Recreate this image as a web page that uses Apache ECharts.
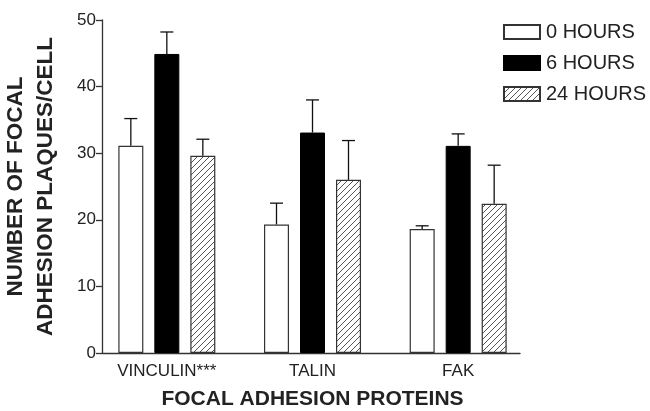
<!DOCTYPE html>
<html><head><meta charset="utf-8">
<script src="https://cdn.jsdelivr.net/npm/echarts@6/dist/echarts.min.js"></script>
<style>html,body{margin:0;padding:0;background:#fff}#c{width:650px;height:411px}</style>
</head><body><div id="c"></div>
<script>
const categories = ['VINCULIN***', 'TALIN', 'FAK'];
const seriesNames = ['0 HOURS', '6 HOURS', '24 HOURS'];
const hours0 = [31.1, 19.3, 18.6];
const hours6 = [44.9, 33.1, 31.1];
const hours24 = [29.6, 26.0, 22.4];
const sem0 = [4.1, 3.2, 0.5];
const sem6 = [3.3, 4.9, 1.8];
const sem24 = [2.5, 5.9, 5.8];
const yTicks = [0, 10, 20, 30, 40, 50];

const FONT = 'Liberation Sans, Arial, sans-serif';
const TXT = '#222';

// hatch pattern
const pc = document.createElement('canvas');
pc.width = 6; pc.height = 6;
const g = pc.getContext('2d');
g.fillStyle = '#fff'; g.fillRect(0, 0, 6, 6);
g.strokeStyle = '#555'; g.lineWidth = 1;
g.beginPath();
g.moveTo(-1, 7); g.lineTo(7, -1);
g.moveTo(-1, 1); g.lineTo(1, -1);
g.moveTo(5, 7); g.lineTo(7, 5);
g.stroke();

const barW = 25;
const offsets = [-36, 0, 36];

function errSeries(means, sems, idx) {
  return {
    type: 'custom', xAxisIndex: 0, yAxisIndex: 0, z: 10, silent: true,
    data: means.map((m, i) => [i, m, m + sems[i]]),
    encode: { x: 0, y: [1, 2] },
    renderItem: function (params, api) {
      const b = api.coord([api.value(0), api.value(1)]);
      const t = api.coord([api.value(0), api.value(2)]);
      const cx = b[0] + offsets[idx];
      const st = { stroke: '#111', lineWidth: 1.3 };
      return { type: 'group', children: [
        { type: 'line', shape: { x1: cx, y1: b[1], x2: cx, y2: t[1] }, style: st },
        { type: 'line', shape: { x1: cx - 6.5, y1: t[1], x2: cx + 6.5, y2: t[1] }, style: st }
      ]};
    }
  };
}

const chart = echarts.init(document.getElementById('c'), null, { renderer: 'canvas' });
chart.setOption({
  animation: false,
  backgroundColor: '#fff',
  textStyle: { fontFamily: FONT },
  grid: [
    { left: 94, width: 437, top: 20, bottom: 58, containLabel: false, outerBoundsMode: 'none' },
    { left: 102, right: 130, top: 20, bottom: 58, containLabel: false, outerBoundsMode: 'none' }
  ],
  legend: {
    orient: 'vertical', left: 503, top: 22, padding: 0, itemWidth: 36, itemHeight: 14, itemGap: 11,
    data: seriesNames,
    textStyle: { fontFamily: FONT, fontSize: 20, color: TXT, padding: [0, 0, 0, 1] },
    icon: 'rect'
  },
  xAxis: [
    { type: 'category', gridIndex: 0, data: categories,
      axisLine: { show: false }, axisTick: { show: false },
      axisLabel: { fontFamily: FONT, fontSize: 17, color: TXT, margin: 10 },
      name: 'FOCAL ADHESION PROTEINS', nameLocation: 'middle', nameGap: 36,
      nameTextStyle: { fontFamily: FONT, fontSize: 21, fontWeight: 'bold', color: TXT } },
    { type: 'value', gridIndex: 1, min: 0, max: 1,
      axisLine: { show: true, lineStyle: { color: '#333', width: 1.3 } },
      axisTick: { show: false }, axisLabel: { show: false }, splitLine: { show: false } }
  ],
  yAxis: [
    { type: 'value', gridIndex: 0, min: 0, max: 50, interval: 10, show: false },
    { type: 'value', gridIndex: 1, min: yTicks[0], max: yTicks[yTicks.length - 1], interval: 10,
      axisLine: { show: true, lineStyle: { color: '#333', width: 1.3 } },
      axisTick: { show: true, length: 6, lineStyle: { color: '#333', width: 1.3 } },
      axisLabel: { fontFamily: FONT, fontSize: 17, color: TXT, margin: 6 },
      splitLine: { show: false },
      name: 'NUMBER OF FOCAL\nADHESION PLAQUES/CELL', nameLocation: 'middle', nameGap: 41,
      nameTextStyle: { fontFamily: FONT, fontSize: 22.5, fontWeight: 'bold', color: TXT, lineHeight: 30 } }
  ],
  series: [
    { name: seriesNames[0], type: 'bar', xAxisIndex: 0, yAxisIndex: 0, data: hours0,
      barWidth: barW, barGap: '44%',
      itemStyle: { color: '#fff', borderColor: '#333', borderWidth: 1.2 } },
    { name: seriesNames[1], type: 'bar', xAxisIndex: 0, yAxisIndex: 0, data: hours6,
      barWidth: barW, barGap: '44%',
      itemStyle: { color: '#000', borderColor: '#000', borderWidth: 1 } },
    { name: seriesNames[2], type: 'bar', xAxisIndex: 0, yAxisIndex: 0, data: hours24,
      barWidth: barW, barGap: '44%',
      itemStyle: { color: { image: pc, repeat: 'repeat' }, borderColor: '#333', borderWidth: 1.2 } },
    errSeries(hours0, sem0, 0),
    errSeries(hours6, sem6, 1),
    errSeries(hours24, sem24, 2)
  ]
});
</script></body></html>
